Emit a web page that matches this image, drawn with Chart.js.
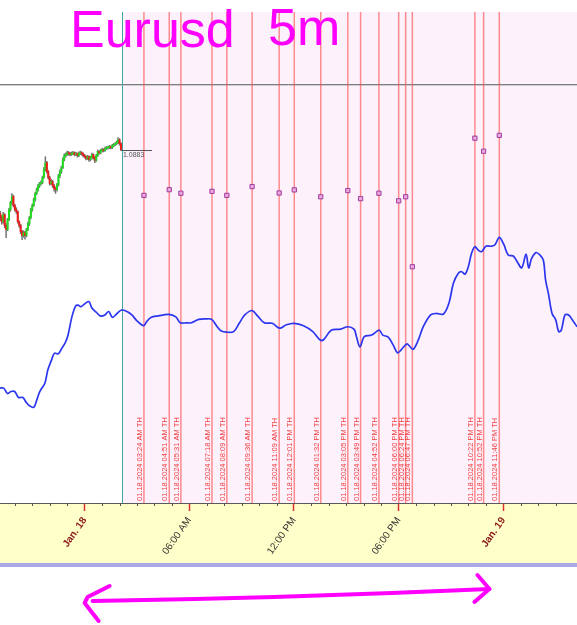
<!DOCTYPE html>
<html><head><meta charset="utf-8">
<script src="https://cdn.jsdelivr.net/npm/chart.js@4.4.1/dist/chart.umd.min.js"></script>
<style>html,body{margin:0;padding:0;background:#fff;}canvas{display:block;}</style>
</head><body>
<canvas id="c" width="577" height="625"></canvas>
<script>
// ---------- DATA ----------
const titleMain = 'Eurusd';
const titleTf = '5m';
// x axis: hours since Jan 18 2024 00:00
const xMinHour = -4.85;
const xMaxHour = 28.22;
const tickHours = [0, 6, 12, 18, 24];
const tickLabels = ['Jan. 18', '06:00 AM', '12:00 PM', '06:00 PM', 'Jan. 19'];
const tickIsDate = [true, false, false, false, true];

// 5-minute candles starting Jan 17 19:10
const candleStartHour = -4.8333;
const candleStepMinutes = 5;
const candleOpen = [1.08560,1.08543,1.08526,1.08556,1.08510,1.08493,1.08535,1.08577,1.08607,1.08632,
 1.08594,1.08577,1.08569,1.08526,1.08510,1.08484,1.08467,1.08480,1.08467,1.08493,
 1.08518,1.08543,1.08577,1.08594,1.08619,1.08645,1.08661,1.08678,1.08687,1.08691,
 1.08712,1.08746,1.08775,1.08737,1.08712,1.08687,1.08695,1.08678,1.08666,1.08661,
 1.08682,1.08720,1.08737,1.08754,1.08788,1.08805,1.08809,1.08817,1.08813,1.08809,
 1.08813,1.08817,1.08809,1.08813,1.08805,1.08813,1.08817,1.08813,1.08805,1.08800,
 1.08792,1.08800,1.08788,1.08796,1.08809,1.08796,1.08784,1.08805,1.08822,1.08817,
 1.08826,1.08830,1.08826,1.08834,1.08838,1.08838,1.08843,1.08838,1.08847,1.08851,
 1.08855,1.08860,1.08872,1.08855];
const candleHigh = [1.08570,1.08552,1.08565,1.08560,1.08518,1.08540,1.08582,1.08612,1.08645,1.08638,
 1.08600,1.08585,1.08572,1.08530,1.08515,1.08490,1.08488,1.08485,1.08498,1.08524,
 1.08548,1.08582,1.08600,1.08625,1.08650,1.08668,1.08684,1.08692,1.08698,1.08718,
 1.08755,1.08800,1.08780,1.08742,1.08718,1.08705,1.08700,1.08684,1.08672,1.08688,
 1.08726,1.08745,1.08760,1.08795,1.08812,1.08816,1.08824,1.08822,1.08818,1.08820,
 1.08823,1.08820,1.08819,1.08816,1.08820,1.08824,1.08821,1.08816,1.08810,1.08804,
 1.08806,1.08804,1.08802,1.08815,1.08812,1.08800,1.08810,1.08828,1.08826,1.08831,
 1.08836,1.08834,1.08840,1.08843,1.08844,1.08848,1.08846,1.08852,1.08856,1.08860,
 1.08866,1.08881,1.08876,1.08860];
const candleLow = [1.08530,1.08515,1.08520,1.08500,1.08459,1.08488,1.08530,1.08570,1.08600,1.08588,
 1.08570,1.08560,1.08520,1.08502,1.08475,1.08450,1.08460,1.08452,1.08462,1.08488,
 1.08510,1.08538,1.08570,1.08590,1.08612,1.08640,1.08655,1.08670,1.08680,1.08686,
 1.08708,1.08740,1.08730,1.08705,1.08680,1.08682,1.08670,1.08655,1.08645,1.08655,
 1.08676,1.08712,1.08730,1.08750,1.08782,1.08798,1.08804,1.08806,1.08803,1.08805,
 1.08808,1.08803,1.08805,1.08798,1.08800,1.08808,1.08806,1.08799,1.08794,1.08786,
 1.08788,1.08780,1.08783,1.08790,1.08790,1.08775,1.08780,1.08800,1.08810,1.08812,
 1.08820,1.08820,1.08822,1.08830,1.08832,1.08834,1.08833,1.08834,1.08842,1.08846,
 1.08850,1.08855,1.08848,1.08825];
const candleClose = [1.08543,1.08526,1.08556,1.08510,1.08493,1.08535,1.08577,1.08607,1.08632,1.08594,
 1.08577,1.08569,1.08526,1.08510,1.08484,1.08467,1.08480,1.08467,1.08493,1.08518,
 1.08543,1.08577,1.08594,1.08619,1.08645,1.08661,1.08678,1.08687,1.08691,1.08712,
 1.08746,1.08775,1.08737,1.08712,1.08687,1.08695,1.08678,1.08666,1.08661,1.08682,
 1.08720,1.08737,1.08754,1.08788,1.08805,1.08809,1.08817,1.08813,1.08809,1.08813,
 1.08817,1.08809,1.08813,1.08805,1.08813,1.08817,1.08813,1.08805,1.08800,1.08792,
 1.08800,1.08788,1.08796,1.08809,1.08796,1.08784,1.08805,1.08822,1.08817,1.08826,
 1.08830,1.08826,1.08834,1.08838,1.08838,1.08843,1.08838,1.08847,1.08851,1.08855,
 1.08860,1.08872,1.08855,1.08830];
const lastPriceLabel = '1.0883';

// price scale range and horizontal level
const priceMin = 1.0734;
const priceMax = 1.0941;
const levelPrice = 1.09107;

// session start (teal line) and signals
const sessionStartHour = 2.15;
const signalDate = '01.18.2024';
const signalTimes = ['03:24 AM','04:51 AM','05:31 AM','07:18 AM','08:09 AM','09:36 AM','11:09 AM','12:01 PM',
 '01:32 PM','03:05 PM','03:49 PM','04:52 PM','06:00 PM','06:24 PM','06:47 PM','10:22 PM','10:52 PM','11:46 PM'];
const signalPrices = [1.08637,1.08661,1.08646,1.08654,1.08637,1.08674,1.08647,1.08660,
 1.08631,1.08657,1.08623,1.08646,1.08614,1.08631,1.08336,1.08878,1.08823,1.08890];

// blue indicator (own scale 0..100)
const indicatorHours = [-4.85,-4.64,-4.42,-4.22,-4.01,-3.79,-3.54,-3.37,-3.16,-2.91,
 -2.74,-2.57,-2.28,-2.11,-1.90,-1.73,-1.51,-1.31,-1.10,-0.95,
 -0.73,-0.52,-0.38,-0.21,0.05,0.25,0.42,0.68,0.89,1.16,
 1.38,1.59,1.86,2.12,2.43,2.71,3.00,3.38,3.55,3.80,
 4.22,4.81,5.23,5.48,5.81,6.12,6.54,6.96,7.28,7.60,
 7.81,8.13,8.54,8.86,9.18,9.60,9.91,10.30,10.76,11.18,
 11.56,12.02,12.55,13.08,13.50,13.71,14.13,14.66,15.08,15.44,
 15.57,15.78,16.03,16.45,16.88,17.09,17.40,17.68,17.93,18.14,
 18.46,18.61,18.82,19.09,19.41,19.83,20.14,20.57,20.88,21.14,
 21.42,21.61,21.80,21.99,22.18,22.37,22.56,22.76,23.00,23.33,
 23.52,23.77,24.03,24.28,24.57,24.80,25.05,25.30,25.45,25.62,
 25.87,26.10,26.29,26.42,26.58,26.79,27.00,27.17,27.32,27.53,
 27.74,27.95,28.22];
const indicatorValues = [23.4,23.4,22.3,22.7,22.7,21.5,21.5,20.6,19.8,19.5,
 21.0,22.7,24.4,27.1,29.1,30.5,30.4,31.5,32.7,34.2,
 37.9,40.1,40.3,40.0,40.7,41.0,39.7,38.8,38.1,38.3,
 39.0,37.8,38.6,39.3,39.0,38.3,37.1,36.1,36.9,37.8,
 38.1,38.4,37.9,36.7,36.7,36.7,37.4,37.5,37.4,35.9,
 35.1,34.8,34.9,36.6,38.3,39.2,38.1,36.7,36.6,35.6,
 36.3,36.6,36.1,34.9,33.2,33.3,35.2,35.4,35.9,35.4,
 34.0,31.8,33.9,34.2,35.2,34.2,33.8,32.2,30.6,31.2,
 32.4,32.0,31.3,32.9,35.9,38.3,38.6,38.5,40.7,44.8,
 46.8,47.1,46.6,48.1,50.9,52.2,51.5,51.2,52.3,52.3,
 52.6,54.1,52.6,50.5,50.3,49.1,47.9,50.7,47.9,49.8,
 51.0,50.5,49.5,45.4,42.7,38.6,37.3,34.9,35.2,38.3,
 38.3,37.3,35.9];

// hand-drawn arrow span (hours)
const arrowSpanHours = [0, 23.2];

// ---------- BUILD ----------
const hourOf = s => { const [hm, ap] = s.split(' '); let [h, m] = hm.split(':').map(Number); return h % 12 + (ap === 'PM' ? 12 : 0) + m / 60; };
const signalHours = signalTimes.map(hourOf);
const candleHours = candleClose.map((_, i) => candleStartHour + i * candleStepMinutes / 60);

const deco = {
  id: 'deco',
  beforeDraw(chart) {
    const {ctx, chartArea: a, scales: {x}} = chart;
    ctx.save();
    ctx.fillStyle = '#ffffff';
    ctx.fillRect(0, 0, chart.width, chart.height);
    const sx = x.getPixelForValue(sessionStartHour);
    ctx.fillStyle = '#fdf1fb';
    ctx.fillRect(sx, a.top, a.right - sx, a.bottom - a.top);
    ctx.fillStyle = '#ffffca';
    ctx.fillRect(0, a.bottom, chart.width, x.bottom - a.bottom);
    ctx.fillStyle = '#a9a9e4';
    ctx.fillRect(0, x.bottom, chart.width, 4);
    ctx.restore();
  },
  beforeDatasetsDraw(chart) {
    const {ctx, chartArea: a, scales: {x, y}} = chart;
    ctx.save();
    // level line
    const ly = Math.round(y.getPixelForValue(levelPrice)) + 0.5;
    ctx.lineWidth = 1;
    ctx.strokeStyle = '#7d7d7d';
    ctx.beginPath(); ctx.moveTo(0, ly); ctx.lineTo(chart.width, ly); ctx.stroke();
    ctx.strokeStyle = '#cfcfcf';
    ctx.beginPath(); ctx.moveTo(0, ly + 1); ctx.lineTo(chart.width, ly + 1); ctx.stroke();
    // session line
    const sx = Math.round(x.getPixelForValue(sessionStartHour)) + 0.5;
    ctx.strokeStyle = '#3fa8a2';
    ctx.beginPath(); ctx.moveTo(sx, a.top); ctx.lineTo(sx, a.bottom); ctx.stroke();
    // signal lines + labels
    ctx.font = '7.5px "Liberation Sans", Arial, sans-serif';
    signalHours.forEach((h, i) => {
      const px = x.getPixelForValue(h);
      ctx.strokeStyle = 'rgba(255,70,70,0.6)';
      ctx.lineWidth = 1.5;
      ctx.beginPath(); ctx.moveTo(px, a.top); ctx.lineTo(px, a.bottom); ctx.stroke();
      ctx.save();
      ctx.translate(px - 4, a.bottom - 2);
      ctx.rotate(-Math.PI / 2);
      ctx.fillStyle = 'rgba(240,40,40,0.9)';
      ctx.textAlign = 'left';
      ctx.textBaseline = 'middle';
      ctx.fillText(signalDate + ' ' + signalTimes[i] + ' TH', 0, 0);
      ctx.restore();
    });
    ctx.restore();
  },
  afterDraw(chart) {
    const {ctx, chartArea: a, scales: {x, y}} = chart;
    ctx.save();
    // minor hourly ticks
    ctx.strokeStyle = '#555';
    ctx.lineWidth = 1;
    x.ticks.forEach(t => {
      if (Number.isInteger(t.value) && !tickHours.includes(t.value)) {
        const px = Math.round(x.getPixelForValue(t.value)) + 0.5;
        ctx.beginPath(); ctx.moveTo(px, a.bottom); ctx.lineTo(px, a.bottom + 3); ctx.stroke();
      }
    });
    // last price marker
    const n = candleClose.length - 1;
    const lx = x.getPixelForValue(candleHours[n]);
    const lyy = Math.round(y.getPixelForValue(candleClose[n])) + 0.5;
    ctx.strokeStyle = '#555';
    ctx.beginPath(); ctx.moveTo(lx, lyy); ctx.lineTo(lx + 31, lyy); ctx.stroke();
    ctx.fillStyle = '#555';
    ctx.font = '7px "Liberation Sans", Arial, sans-serif';
    ctx.textBaseline = 'top';
    ctx.fillText(lastPriceLabel, lx + 2, lyy + 1);
    // title
    ctx.fillStyle = '#ff00ff';
    ctx.textBaseline = 'alphabetic';
    ctx.font = '52px "Liberation Sans", Arial, sans-serif';
    ctx.fillText(titleMain, 70, 47, 165);
    ctx.fillText(titleTf, 268, 45, 78);
    // hand-drawn double arrow
    const l = x.getPixelForValue(arrowSpanHours[0]);
    const r = x.getPixelForValue(arrowSpanHours[1]);
    ctx.strokeStyle = '#ff00ff';
    ctx.lineWidth = 4;
    ctx.lineCap = 'round';
    ctx.lineJoin = 'round';
    ctx.beginPath();
    ctx.moveTo(l + 8, 601);
    ctx.quadraticCurveTo((l + r) / 2, 598, r, 589);
    ctx.stroke();
    ctx.beginPath();
    ctx.moveTo(l + 25, 586); ctx.lineTo(l + 3, 597); ctx.lineTo(l, 603); ctx.lineTo(l + 14, 621);
    ctx.stroke();
    ctx.beginPath();
    ctx.moveTo(r - 12, 575); ctx.lineTo(r, 589); ctx.lineTo(r - 15, 602);
    ctx.stroke();
    ctx.restore();
  }
};

new Chart(document.getElementById('c'), {
  type: 'line',
  data: {
    datasets: [
      {
        type: 'line', label: 'signals',
        data: signalHours.map((h, i) => ({x: h, y: signalPrices[i]})),
        showLine: false, pointStyle: 'rect', pointRadius: 3,
        borderColor: '#a03c9c', backgroundColor: '#eaa8de', borderWidth: 1,
        yAxisID: 'y', order: 0
      },
      {
        type: 'line', label: 'indicator',
        data: indicatorHours.map((h, i) => ({x: h, y: indicatorValues[i]})),
        borderColor: '#2b36ee', borderWidth: 1.7, pointRadius: 0, tension: 0.35,
        fill: false, yAxisID: 'y2', order: 1
      },
      {
        type: 'bar', label: 'body',
        data: candleHours.map((h, i) => ({x: h, y: [candleOpen[i], candleClose[i]]})),
        backgroundColor: candleClose.map((c, i) => c >= candleOpen[i] ? '#1fdc1f' : '#ee1a1a'),
        barThickness: 1.4, minBarLength: 1, grouped: false, yAxisID: 'y', order: 2
      },
      {
        type: 'bar', label: 'wick',
        data: candleHours.map((h, i) => ({x: h, y: [candleLow[i], candleHigh[i]]})),
        backgroundColor: '#707070', barThickness: 0.8, grouped: false, yAxisID: 'y', order: 3
      }
    ]
  },
  options: {
    responsive: false,
    animation: false,
    devicePixelRatio: 1,
    layout: {autoPadding: false, padding: {top: 12, bottom: 62, left: 0, right: 0}},
    plugins: {legend: {display: false}, tooltip: {enabled: false}, title: {display: false}},
    scales: {
      x: {
        type: 'linear', min: xMinHour, max: xMaxHour, offset: false,
        ticks: {
          stepSize: 1, autoSkip: false, minRotation: 55, maxRotation: 55, padding: 4,
          callback: v => { const k = tickHours.indexOf(v); return k >= 0 ? tickLabels[k] : ''; },
          color: c => { const k = tickHours.indexOf(c.tick.value); return k >= 0 && tickIsDate[k] ? '#8b1a1a' : '#333'; },
          font: c => { const k = tickHours.indexOf(c.tick && c.tick.value); return {family: '"Liberation Sans", Arial, sans-serif', size: 10, weight: (k >= 0 && tickIsDate[k]) ? 'bold' : 'normal'}; }
        },
        grid: {
          drawOnChartArea: false, drawTicks: true, tickLength: 8, offset: false,
          tickColor: c => tickHours.includes(c.tick.value) ? '#e03030' : 'rgba(0,0,0,0)',
          tickWidth: 1.5
        },
        border: {display: true, color: '#5a5a5a', width: 1},
        afterFit: s => { s.height = 60; s.paddingLeft = 0; s.paddingRight = 0; }
      },
      y: {type: 'linear', display: false, min: priceMin, max: priceMax, beginAtZero: false},
      y2: {type: 'linear', display: false, min: 0, max: 100, beginAtZero: false}
    }
  },
  plugins: [deco]
});
</script>
</body></html>
